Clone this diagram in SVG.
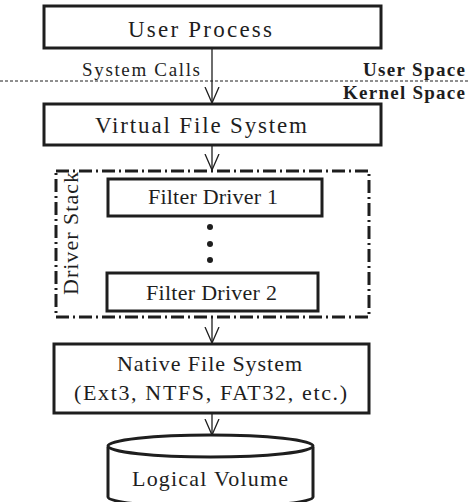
<svg xmlns="http://www.w3.org/2000/svg" width="473" height="502" viewBox="0 0 473 502" font-family="Liberation Serif, DejaVu Serif, serif">
  <defs>
    <style>
      .box { fill: #fff; stroke: #1e1e1e; stroke-width: 3; }
      .lbl { fill: #1e1e1e; font-family: "Liberation Serif", serif; }
      .big { font-size: 23px; }
      .mid { font-size: 22px; }
      .bold { font-family: "Liberation Serif", serif; font-weight: bold; font-size: 19px; fill: #1e1e1e; }
      .wire { stroke: #1e1e1e; stroke-width: 1.3; fill: none; }
    </style>
    <marker id="vhead" viewBox="0 0 16 16" refX="16" refY="8" markerWidth="16" markerHeight="16" markerUnits="userSpaceOnUse" orient="auto">
      <path d="M0,1 L16,8 L0,15" fill="none" stroke="#1e1e1e" stroke-width="1.3"/>
    </marker>
  </defs>

  <rect width="473" height="502" fill="#fff"/>

  <!-- user / kernel boundary -->
  <line x1="0" y1="81" x2="468" y2="81" stroke="#1e1e1e" stroke-width="1" stroke-dasharray="3 2"/>
  <text class="bold" x="363" y="76" textLength="102" lengthAdjust="spacing">User Space</text>
  <text class="bold" x="343" y="99" textLength="122" lengthAdjust="spacing">Kernel Space</text>

  <!-- connectors -->
  <g id="connectors">
    <line class="wire" x1="212" y1="48" x2="212" y2="103" marker-end="url(#vhead)"/>
    <line class="wire" x1="212" y1="145" x2="212" y2="170" marker-end="url(#vhead)"/>
    <line class="wire" x1="212" y1="317" x2="212" y2="343" marker-end="url(#vhead)"/>
    <line class="wire" x1="212" y1="413" x2="212" y2="435" marker-end="url(#vhead)"/>
    <text class="lbl" x="82" y="76" font-size="19" textLength="118" lengthAdjust="spacing">System Calls</text>
  </g>

  <g id="user-process">
    <rect class="box" x="44" y="6" width="337" height="42"/>
    <text class="lbl big" x="128" y="36.5" textLength="144" lengthAdjust="spacing">User Process</text>
  </g>

  <g id="vfs">
    <rect class="box" x="44" y="104" width="337" height="41"/>
    <text class="lbl big" x="95" y="133" textLength="212" lengthAdjust="spacing">Virtual File System</text>
  </g>

  <g id="driver-stack">
    <rect x="56" y="171" width="313" height="146" fill="none" stroke="#1e1e1e" stroke-width="3" stroke-dasharray="13 4 2 4"/>
    <text class="lbl" transform="translate(78 295) rotate(-90)" font-size="22" textLength="123" lengthAdjust="spacing">Driver Stack</text>
  </g>

  <g id="filter-driver-1">
    <rect class="box" x="108" y="179" width="214" height="37"/>
    <text class="lbl mid" x="148" y="204" textLength="130" lengthAdjust="spacing">Filter Driver 1</text>
  </g>

  <g id="ellipsis">
    <circle cx="210" cy="227" r="3" fill="#1e1e1e"/>
    <circle cx="210" cy="244" r="3" fill="#1e1e1e"/>
    <circle cx="210" cy="260" r="3" fill="#1e1e1e"/>
  </g>

  <g id="filter-driver-2">
    <rect class="box" x="107" y="273" width="211" height="38"/>
    <text class="lbl mid" x="146" y="300" textLength="131" lengthAdjust="spacing">Filter Driver 2</text>
  </g>

  <g id="native-fs">
    <rect class="box" x="54" y="344" width="315" height="69"/>
    <text class="lbl mid" x="117" y="371" textLength="185" lengthAdjust="spacing">Native File System</text>
    <text class="lbl mid" x="74" y="400" textLength="273" lengthAdjust="spacing">(Ext3, NTFS, FAT32, etc.)</text>
  </g>

  <g id="logical-volume">
    <path d="M108,447 L108,497 A102.5,10 0 0 0 313,497 L313,447" fill="#fff" stroke="#1e1e1e" stroke-width="3"/>
    <ellipse cx="210.5" cy="446" rx="102.5" ry="11" fill="#fff" stroke="#1e1e1e" stroke-width="3"/>
    <text class="lbl mid" x="132" y="486" textLength="156" lengthAdjust="spacing">Logical Volume</text>
  </g>
</svg>
